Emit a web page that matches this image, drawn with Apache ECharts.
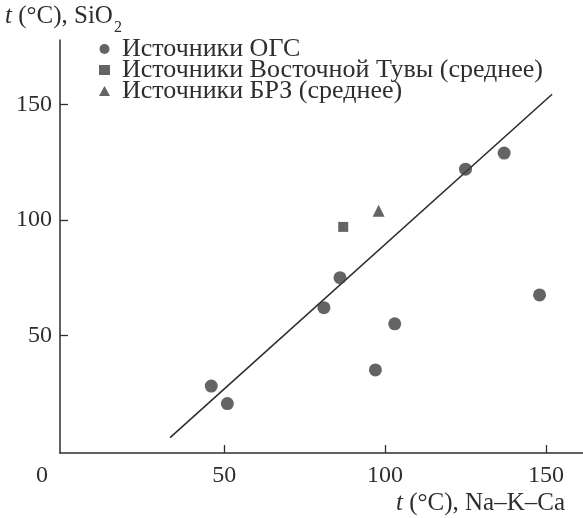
<!DOCTYPE html>
<html>
<head>
<meta charset="utf-8">
<script src="https://cdn.jsdelivr.net/npm/echarts@6/dist/echarts.min.js"></script>
<style>
html,body{margin:0;padding:0;background:#fff;}
#chart{width:583px;height:518px;}
</style>
</head>
<body>
<div id="chart"></div>
<script>
// ---- data ----
const xTicks = [50, 100, 150];
const yTicks = [50, 100, 150];
const seriesNames = ['Источники ОГС', 'Источники Восточной Тувы (среднее)', 'Источники БРЗ (среднее)'];
const ogsPoints = [[46, 28], [51, 20.4], [81, 62], [86, 75], [97, 35], [103, 55], [125, 122], [137, 129], [148, 67.5]];
const tuvaPoints = [[87, 97]];
const brzPoints = [[98, 104]];
const trendLine = [[33.2, 5.7], [151.9, 154.5]];
const titleVar = 't';
const xTitleRest = ' (°C), Na–K–Ca';
const yTitleRest = ' (°C), SiO';
const yTitleSub = '2';
const originLabel = '0';

const FONT = "'Liberation Serif', 'DejaVu Serif', serif";
const INK = '#2e2e2e';
const TITLE_SIZE = 25;

// measure text so that the subscript follows the title
const ctx = document.createElement('canvas').getContext('2d');
ctx.font = 'italic ' + TITLE_SIZE + 'px ' + FONT;
let yTitleWidth = ctx.measureText(titleVar).width;
ctx.font = TITLE_SIZE + 'px ' + FONT;
yTitleWidth += ctx.measureText(yTitleRest).width;
const yTitleLeft = 5;

const richTitle = {
  i: { fontFamily: FONT, fontSize: TITLE_SIZE, fontStyle: 'italic', fill: INK, color: INK },
  r: { fontFamily: FONT, fontSize: TITLE_SIZE, fill: INK, color: INK }
};

const chart = echarts.init(document.getElementById('chart'));
chart.setOption({
  animation: false,
  backgroundColor: '#fff',
  grid: { left: 60, right: 0, top: 40, bottom: 65 },
  legend: {
    orient: 'vertical',
    left: 94,
    top: 31,
    itemGap: -5,
    itemWidth: 11,
    itemHeight: 10,
    data: [
      { name: seriesNames[0], icon: 'circle' },
      { name: seriesNames[1], icon: 'rect' },
      { name: seriesNames[2], icon: 'triangle' }
    ],
    textStyle: { fontFamily: FONT, fontSize: 26, lineHeight: 22, color: INK, padding: [0, 0, 0, 7] }
  },
  xAxis: {
    type: 'value', min: -1, max: 161.5,
    splitLine: { show: false },
    axisLine: { onZero: false, lineStyle: { color: INK, width: 1.5 } },
    axisTick: { inside: true, length: 8, customValues: xTicks, lineStyle: { color: INK, width: 1.3 } },
    axisLabel: { customValues: xTicks, margin: 11, fontFamily: FONT, fontSize: 24, color: INK }
  },
  yAxis: {
    type: 'value', min: -1, max: 178,
    splitLine: { show: false },
    axisLine: { onZero: false, lineStyle: { color: INK, width: 1.5 } },
    axisTick: { inside: true, length: 8, customValues: yTicks, lineStyle: { color: INK, width: 1.3 } },
    axisLabel: { customValues: yTicks, margin: 8, fontFamily: FONT, fontSize: 24, color: INK }
  },
  series: [
    {
      name: 'trend', type: 'line', data: trendLine, symbol: 'none', silent: true,
      lineStyle: { color: INK, width: 1.6 }, z: 1
    },
    {
      name: seriesNames[0], type: 'scatter', data: ogsPoints, symbol: 'circle', symbolSize: 13,
      itemStyle: { color: '#3d3d3d' }, z: 3
    },
    {
      name: seriesNames[1], type: 'scatter', data: tuvaPoints, symbol: 'rect', symbolSize: 10,
      itemStyle: { color: '#3d3d3d' }, z: 3
    },
    {
      name: seriesNames[2], type: 'scatter', data: brzPoints, symbol: 'triangle', symbolSize: 12,
      itemStyle: { color: '#3d3d3d' }, z: 3
    }
  ],
  graphic: [
    { type: 'text', left: yTitleLeft, top: 4,
      style: { text: '{i|' + titleVar + '}{r|' + yTitleRest + '}', rich: richTitle, fill: INK } },
    { type: 'text', left: yTitleLeft + yTitleWidth + 1, top: 20,
      style: { text: yTitleSub, font: '16px ' + FONT, fill: INK } },
    { type: 'text', right: 18, top: 491,
      style: { text: '{i|' + titleVar + '}{r|' + xTitleRest + '}', rich: richTitle, fill: INK } },
    { type: 'text', left: 36, top: 464, style: { text: originLabel, font: '24px ' + FONT, fill: INK } }
  ]
});
</script>
</body>
</html>
